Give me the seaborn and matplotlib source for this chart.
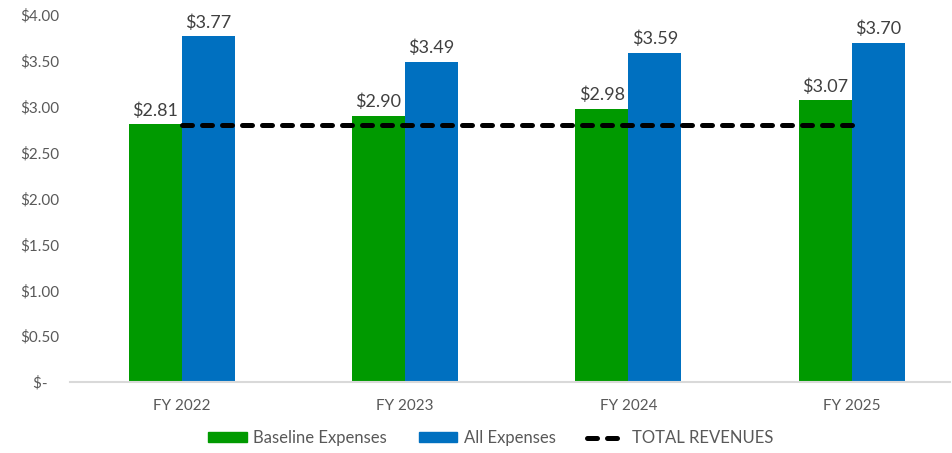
import numpy as np
import pandas as pd
import matplotlib
matplotlib.use('Agg')
import matplotlib.pyplot as plt
import seaborn as sns
from matplotlib.ticker import FuncFormatter
from matplotlib.lines import Line2D
from matplotlib.patches import Patch

# 数据
years = ['FY 2022', 'FY 2023', 'FY 2024', 'FY 2025']
baseline = [2.81, 2.90, 2.98, 3.07]
all_exp = [3.77, 3.49, 3.59, 3.70]
revenues = [2.80, 2.80, 2.80, 2.80]
series_names = ['Baseline Expenses', 'All Expenses']
colors = ['#009A00', '#0070C0']

sns.set_style('white')
plt.rcParams['font.family'] = ['Lato', 'DejaVu Sans']

df = pd.DataFrame({
    'year': years * 2,
    'value': baseline + all_exp,
    'series': [series_names[0]] * 4 + [series_names[1]] * 4,
})

fig = plt.figure(figsize=(9.52, 4.53), dpi=100)
ax = fig.add_axes([70 / 952, 1 - 382 / 453, 880 / 952, 367 / 453])

sns.barplot(data=df, x='year', y='value', hue='series', palette=colors,
            width=0.475, saturation=1, linewidth=0, ax=ax, legend=False)

for cont in ax.containers:
    ax.bar_label(cont, labels=['$%.2f' % v for v in cont.datavalues],
                 padding=4, fontsize=13, color='#404040')

# 总收入虚线
ax.plot(range(len(years)), revenues, color='black', linewidth=3.6,
        dashes=(2, 2), dash_capstyle='round', solid_capstyle='round', zorder=5)

ax.set_ylim(0, 4.0)
ax.set_xlim(-0.5, 3.44)
ax.set_yticks(np.arange(0, 4.01, 0.5))
ax.yaxis.set_major_formatter(FuncFormatter(lambda v, p: '$-   ' if v == 0 else '$%.2f' % v))
ax.set_xlabel('')
ax.set_ylabel('')
ax.tick_params(axis='both', length=0, labelsize=11, colors='#595959')
ax.tick_params(axis='x', pad=12)
ax.tick_params(axis='y', pad=8)
for s in ['top', 'right', 'left']:
    ax.spines[s].set_visible(False)
ax.spines['bottom'].set_color('#D9D9D9')
ax.spines['bottom'].set_linewidth(1.5)

handles = [Patch(color=colors[0], label=series_names[0]),
           Patch(color=colors[1], label=series_names[1]),
           Line2D([0], [0], color='black', linewidth=3.6, dashes=(2, 2),
                  dash_capstyle='round', label='TOTAL REVENUES')]
leg = fig.legend(handles=handles, loc='center', bbox_to_anchor=(491 / 952, 1 - 438 / 453),
                 ncol=3, frameon=False, fontsize=12, handlelength=2.3, handleheight=0.55,
                 columnspacing=1.9, handletextpad=0.4)
for t in leg.get_texts():
    t.set_color('#595959')

fig.savefig('out.png', dpi=100)
